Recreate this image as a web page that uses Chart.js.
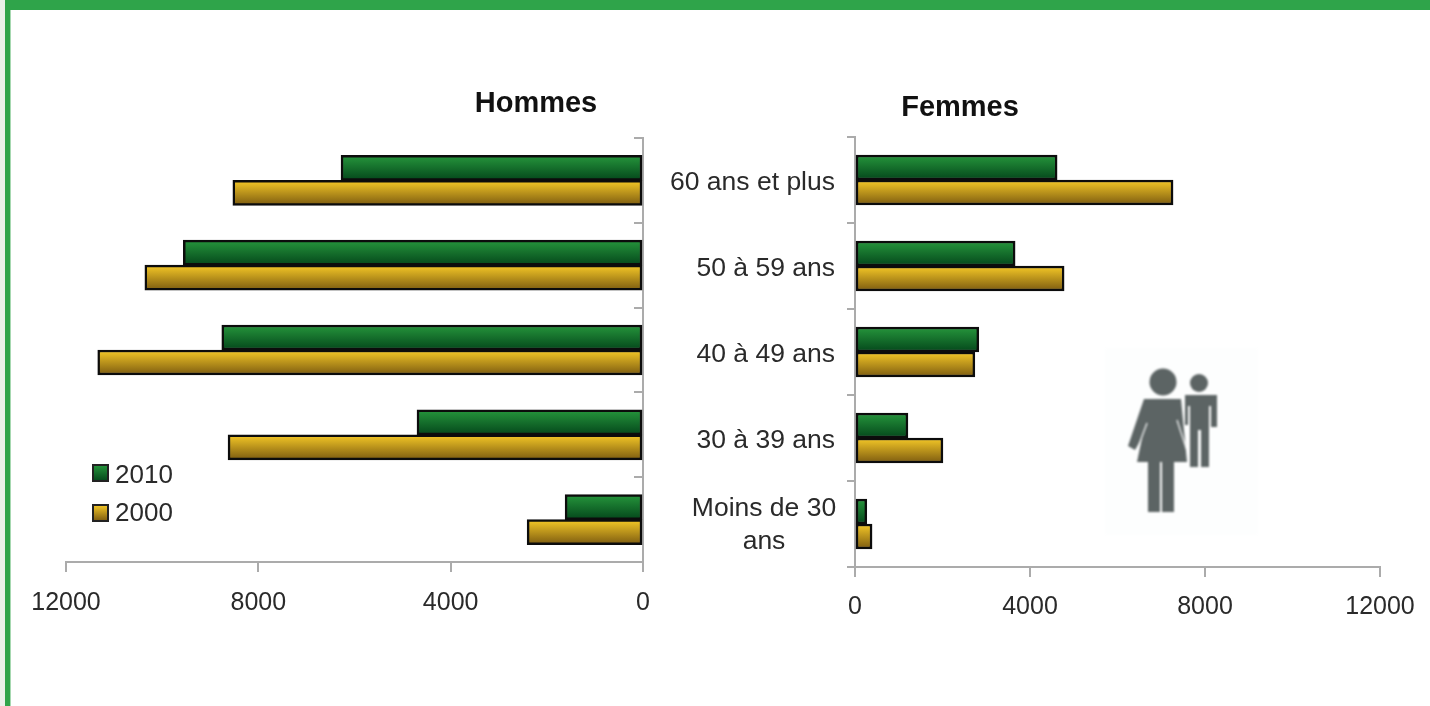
<!DOCTYPE html>
<html lang="fr">
<head>
<meta charset="utf-8">
<title>Hommes / Femmes par âge</title>
<script src="https://cdn.jsdelivr.net/npm/chart.js@4"></script>
<style>
    html, body { margin: 0; padding: 0; background: #fff; overflow: hidden; }
    #page { position: relative; width: 1430px; height: 706px; background: #fff; overflow: hidden; }
    .frame { position: absolute; background: #2fa44a; }
    .pale { position: absolute; background: #e9f1ea; }
    canvas { position: absolute; top: 0; filter: blur(0.5px); }
    #picto { position: absolute; left: 1090px; top: 340px; filter: blur(1px); }
</style>
</head>
<body>
<div id="page">
    <div class="pale" style="left:0;top:0;width:5px;height:706px"></div>
    <div class="frame" style="left:5px;top:0;width:1425px;height:10px"></div>
    <div class="frame" style="left:5px;top:0;width:5px;height:706px"></div>
    <div style="position:absolute;left:10px;top:10px;width:1px;height:696px;background:#a6d8b0"></div>
    <!-- little man and woman pictogram -->
    <svg id="picto" width="180" height="200" viewBox="0 0 180 200">
        <rect x="15" y="8" width="153" height="187" fill="#fdfefe"></rect>
        <g fill="#5c6464">
            <circle cx="109" cy="43" r="9"></circle>
            <path d="M95 55 H127 V87 H121 V66 H119 V127 H111 V90 H108 V127 H100 V66 H98 V85 H95 Z"></path>
            <circle cx="73" cy="42" r="13.5"></circle>
            <path d="M54 59 H91 L97 122 H84 V172 H72 V122 H70 V172 H58 V122 H47 L52 98 L45 110 L38 106 Z"></path>
        </g>
        <g stroke="#fdfefe" stroke-width="1.2" fill="none">
            <path d="M57 83 L47 110"></path>
            <path d="M87 80 L98 114"></path>
        </g>
    </svg>
    <canvas id="hommesChart" width="700" height="706" style="left:0;width:700px;height:706px"></canvas>
    <canvas id="femmesChart" width="780" height="706" style="left:650px;width:780px;height:706px"></canvas>
</div>
<script>
// Values, top row first
const categories = [['60 ans et plus'], ['50 à 59 ans'], ['40 à 49 ans'], ['30 à 39 ans'], ['Moins de 30', 'ans']];
const hommes2010 = [6280, 9560, 8760, 4700, 1620];
const hommes2000 = [8530, 10360, 11340, 8630, 2410];
const femmes2010 = [4620, 3660, 2830, 1210, 270];
const femmes2000 = [7270, 4780, 2740, 2010, 390];
const seriesNames = ['2010', '2000'];
const axisMax = 12000;
const axisStep = 4000;

const FONT = '"Liberation Sans", Arial, sans-serif';
const TEXT = '#2a2a2a';
const AXIS = '#ababab';
const BAR = 25;
const greenStops = ['#26963c', '#04471b'];
const goldStops = ['#f6c927', '#7c5b10'];

function barGradient(c, top, height, stops) {
    const g = c.createLinearGradient(0, top, 0, top + height);
    g.addColorStop(0, stops[0]);
    g.addColorStop(1, stops[1]);
    return g;
}

// each bar gets its own vertical gradient
function barFill(stops, above) {
    return ctx => {
        if (ctx.dataIndex === undefined) return stops[0];
        const mid = ctx.chart.scales.y.getPixelForValue(ctx.dataIndex);
        if (!isFinite(mid)) return stops[0];
        return barGradient(ctx.chart.ctx, above ? mid - BAR : mid, BAR, stops);
    };
}

function buildChart(id, first, second, reverse, padding, tickLen, tickPad, extras) {
    return new Chart(document.getElementById(id), {
        type: 'bar',
        data: {
            labels: categories,
            datasets: [
                { label: seriesNames[0], data: first, backgroundColor: barFill(greenStops, true) },
                { label: seriesNames[1], data: second, backgroundColor: barFill(goldStops, false) }
            ]
        },
        options: {
            indexAxis: 'y',
            responsive: false,
            animation: false,
            layout: { padding: padding },
            datasets: {
                bar: { barThickness: BAR, borderColor: '#0c0c0c', borderWidth: 2.5, borderSkipped: false }
            },
            plugins: { legend: { display: false }, tooltip: { enabled: false }, title: { display: false } },
            scales: {
                x: {
                    reverse: reverse,
                    min: 0,
                    max: axisMax,
                    afterFit: s => { s.height = 60; },
                    border: { color: AXIS, width: 2 },
                    grid: { drawOnChartArea: false, color: AXIS, lineWidth: 2, tickLength: 10 },
                    ticks: {
                        stepSize: axisStep,
                        maxRotation: 0,
                        padding: tickPad,
                        color: TEXT,
                        font: { family: FONT, size: 25 },
                        callback: v => String(v)
                    }
                },
                y: {
                    position: reverse ? 'right' : 'left',
                    afterFit: s => { s.width = 0; },
                    border: { color: AXIS, width: 2 },
                    grid: { drawOnChartArea: false, color: AXIS, lineWidth: 2, tickLength: tickLen },
                    ticks: { display: false }
                }
            }
        },
        plugins: [extras]
    });
}

function drawTitle(c, text, x, y) {
    c.save();
    c.font = 'bold 29px ' + FONT;
    c.fillStyle = '#111';
    c.textAlign = 'center';
    c.textBaseline = 'middle';
    c.fillText(text, x, y);
    c.restore();
}

// titles and legend of the men panel
const hommesExtras = {
    id: 'hommesExtras',
    afterDraw(chart) {
        const c = chart.ctx;
        drawTitle(c, 'Hommes', 536, 104);
        const rows = [[seriesNames[0], 465, 476, greenStops], [seriesNames[1], 505, 514, goldStops]];
        rows.forEach(([name, top, textY, stops]) => {
            c.save();
            c.fillStyle = barGradient(c, top, 16, stops);
            c.strokeStyle = '#222';
            c.lineWidth = 2;
            c.fillRect(93, top, 15, 16);
            c.strokeRect(93, top, 15, 16);
            c.font = '26px ' + FONT;
            c.fillStyle = TEXT;
            c.textBaseline = 'middle';
            c.fillText(name, 115, textY);
            c.restore();
        });
    }
};

// title of the women panel and the age labels between the panels
const femmesExtras = {
    id: 'femmesExtras',
    afterDraw(chart) {
        const c = chart.ctx;
        drawTitle(c, 'Femmes', 310, 108);
        c.save();
        c.font = '26.5px ' + FONT;
        c.fillStyle = TEXT;
        c.textBaseline = 'middle';
        categories.forEach((lines, i) => {
            const mid = chart.scales.y.getPixelForValue(i);
            if (lines.length === 1) {
                c.textAlign = 'right';
                c.fillText(lines[0], 185, mid + 3);
            } else {
                c.textAlign = 'center';
                lines.forEach((line, n) => c.fillText(line, 114, mid - 15 + n * 33));
            }
        });
        c.restore();
    }
};

buildChart('hommesChart', hommes2010, hommes2000, true,
    { left: 66, right: 57, top: 138, bottom: 84 }, -9, 16, hommesExtras);
buildChart('femmesChart', femmes2010, femmes2000, false,
    { left: 205, right: 50, top: 137, bottom: 79 }, 8, 15, femmesExtras);
</script>
</body>
</html>
